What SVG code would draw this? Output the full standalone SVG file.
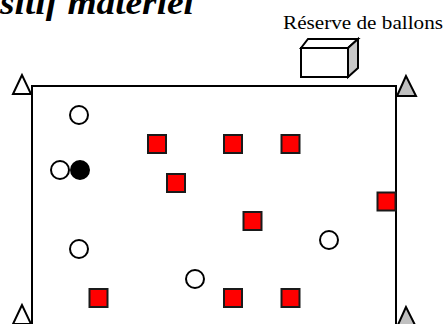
<svg xmlns="http://www.w3.org/2000/svg" width="444" height="324" viewBox="0 0 444 324">
<style>
.field{fill:none;stroke:#000;stroke-width:2}
.cone{fill:#fff;stroke:#000;stroke-width:2;stroke-linejoin:miter}
.cone-g{fill:#c0c0c0;stroke:#000;stroke-width:2}
.ball{fill:#fff;stroke:#000;stroke-width:2}
.ball-b{fill:#000;stroke:#000;stroke-width:2}
.sq{fill:#ff0000;stroke:#1a1a1a;stroke-width:2}
.box{fill:#fff;stroke:#000;stroke-width:2;stroke-linejoin:miter}
.box-side{fill:#c8c8c8;stroke:#000;stroke-width:2;stroke-linejoin:miter}
.title{font-family:"Liberation Serif","Times New Roman",serif;font-weight:bold;font-style:italic;font-size:33px;fill:#000}
.label{font-family:"Liberation Serif","Times New Roman",serif;font-size:18px;fill:#000}
</style>
<g id="title"><text class="title" x="0" y="13.5" textLength="194" lengthAdjust="spacingAndGlyphs">sitif matériel</text></g>
<g id="reserve">
<text class="label" x="283" y="29" textLength="160" lengthAdjust="spacingAndGlyphs">Réserve de ballons</text>
<polygon class="box" points="301,48 308,39 358,39 348,48"/>
<polygon class="box-side" points="348,48 358,39 358,68 348,77"/>
<rect class="box" x="301" y="48" width="47" height="29"/>
</g>
<g id="field"><polyline class="field" points="32,330 32,86 396,86 396,330"/></g>
<g id="cone-tl"><polygon class="cone" points="22,75 13,94 31,94"/></g>
<g id="cone-tr"><polygon class="cone-g" points="406,76 397,96 416,96"/></g>
<g id="cone-bl"><polygon class="cone" points="22,305 13,324 31,324"/></g>
<g id="cone-br"><polygon class="cone-g" points="406,307 397,327 416,327"/></g>
<g id="ball-1"><circle class="ball" cx="79" cy="115" r="9"/></g>
<g id="ball-2"><circle class="ball" cx="60" cy="170" r="9"/></g>
<g id="ball-3"><circle class="ball-b" cx="80" cy="170" r="9"/></g>
<g id="ball-4"><circle class="ball" cx="79" cy="249" r="9"/></g>
<g id="ball-5"><circle class="ball" cx="195" cy="279" r="9"/></g>
<g id="ball-6"><circle class="ball" cx="329" cy="240" r="9"/></g>
<g id="sq-1"><rect class="sq" x="148" y="135" width="18" height="18"/></g>
<g id="sq-2"><rect class="sq" x="167" y="174" width="18" height="18"/></g>
<g id="sq-3"><rect class="sq" x="89.5" y="289" width="18" height="18"/></g>
<g id="sq-4"><rect class="sq" x="224" y="135" width="18" height="18"/></g>
<g id="sq-5"><rect class="sq" x="281.5" y="135" width="18" height="18"/></g>
<g id="sq-6"><rect class="sq" x="243.5" y="212" width="18" height="18"/></g>
<g id="sq-7"><rect class="sq" x="377.5" y="192.5" width="18" height="18"/></g>
<g id="sq-8"><rect class="sq" x="224" y="289" width="18" height="18"/></g>
<g id="sq-9"><rect class="sq" x="281.5" y="289" width="18" height="18"/></g>
<g id="connectors"></g>
</svg>
